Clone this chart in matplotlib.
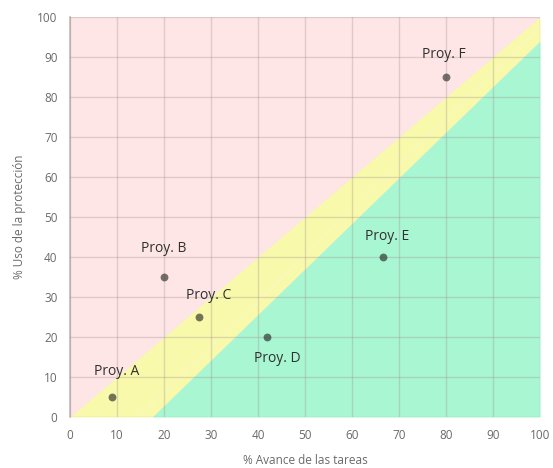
import numpy as np
import matplotlib.pyplot as plt

# projects
names = ['Proy. A', 'Proy. B', 'Proy. C', 'Proy. D', 'Proy. E', 'Proy. F']
avance = [9, 20, 27.5, 42, 66.5, 80]
uso = [5, 35, 25, 20, 40, 85]

# zone limits (x, y)
upper_x = [0, 100]
upper_y = [0, 100]
lower_x = [17.5, 100]
lower_y = [0, 94]

ticks = list(range(0, 101, 10))

plt.rcParams['font.family'] = ['Open Sans', 'DejaVu Sans']

fig = plt.figure(figsize=(5.53, 4.68), dpi=100)
ax = fig.add_axes([0.1266, 0.109, 0.85, 0.8547])
ax.set_facecolor('#fde6e5')

xx = np.linspace(0, 100, 201)
top = np.interp(xx, upper_x, upper_y)
low = np.interp(xx, lower_x, lower_y, left=0)
ax.fill_between(xx, low, top, color='#f8f9aa', lw=0, zorder=1)
ax.fill_between(xx, 0, low, where=xx >= lower_x[0], color='#a9f6d3', lw=0, zorder=1)
# faint light streak inside the yellow band
ax.plot([14.5, 100], [0, 97.5], color='white', lw=2, alpha=0.12, zorder=1)

ax.set_xlim(0, 100)
ax.set_ylim(0, 100)
ax.set_xticks(ticks)
ax.set_yticks(ticks)
ax.grid(True, color='#9a8a8a', alpha=0.3, lw=1)
ax.set_axisbelow(False)
ax.tick_params(length=0, colors='#6a6a6a', labelsize=8.5, pad=9)
for s in ['top', 'right', 'bottom']:
    ax.spines[s].set_visible(False)
ax.spines['left'].set_color('#c8b8b8')
ax.spines['left'].set_linewidth(1.2)

ax.scatter(avance, uso, s=32, color='#222222', alpha=0.62, lw=0, zorder=3)

offsets = {'Proy. A': (1, 6.3), 'Proy. B': (0, 7), 'Proy. C': (2, 5.3), 'Proy. D': (2, -5.5),
           'Proy. E': (1, 5), 'Proy. F': (-0.5, 5.5)}
for n, x, y in zip(names, avance, uso):
    dx, dy = offsets[n]
    ax.text(x + dx, y + dy, n, ha='center', va='center', fontsize=10, color='#303030', zorder=4)

ax.set_xlabel('% Avance de las tareas', fontsize=8.5, color='#6a6a6a', labelpad=8)
ax.set_ylabel('% Uso de la protección', fontsize=8.5, color='#6a6a6a', labelpad=8)

fig.savefig('out.png', dpi=100)
